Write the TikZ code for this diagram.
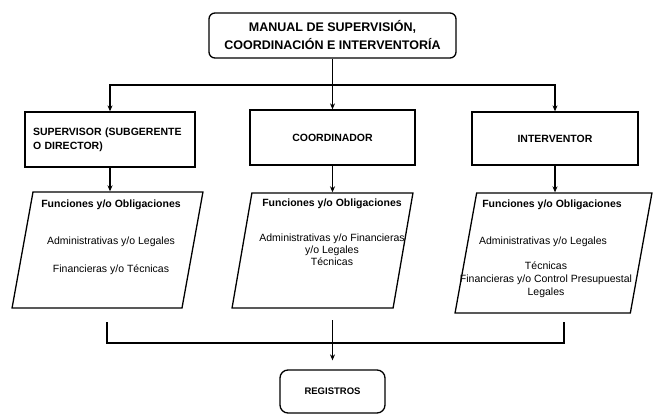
\documentclass[tikz,border=0pt]{standalone}
\usepackage{fontspec}
\setmainfont{Liberation Sans}
\usetikzlibrary{shapes.geometric,arrows.meta}
\begin{document}
\begin{tikzpicture}[x=1pt, y=-1pt,
  every node/.style={font=\fontsize{10.5}{12}\selectfont},
  box/.style={draw, line width=1.3pt, font=\fontsize{10.5}{14}\selectfont\bfseries},
  funbox/.style={draw, line width=1.3pt, trapezium, trapezium left angle=82, trapezium right angle=98, trapezium stretches=true, inner sep=3pt},
  head/.style={font=\fontsize{10.5}{12}\selectfont\bfseries},
  link/.style={line width=1.1pt},
  arr/.style={link, -{Stealth[length=6pt,width=5pt]}}]
\useasboundingbox (0,0) rectangle (656,415);
% top
\node[box, rounded corners=6pt, minimum width=247pt, minimum height=45pt, align=center, font=\fontsize{12.5}{18}\selectfont\bfseries] (manual) at (332.5,35.5) {MANUAL DE SUPERVISIÓN,\\COORDINACIÓN E INTERVENTORÍA};
% roles
\node[box, text width=154pt, inner xsep=8pt, minimum height=55pt, align=left] (sup) at (110,139.5) {SUPERVISOR (SUBGERENTE\\O DIRECTOR)};
\node[box, minimum width=165pt, minimum height=55pt] (coor) at (332.5,137.5) {COORDINADOR};
\node[box, minimum width=166pt, minimum height=53pt] (inter) at (555,138.5) {INTERVENTOR};
% funciones
\node[funbox, minimum width=191pt, minimum height=116pt] (sup-fun) at (107.5,250) {};
\node[funbox, minimum width=181pt, minimum height=115pt] (coor-fun) at (322.5,250.5) {};
\node[funbox, minimum width=197pt, minimum height=120pt] (inter-fun) at (553.5,253) {};
\node[head] (sup-t1) at (111,205) {Funciones y/o Obligaciones};
\node (sup-t2) at (111,242) {Administrativas y/o Legales};
\node (sup-t3) at (111,270) {Financieras y/o Técnicas};
\node[head] (coor-t1) at (332,204) {Funciones y/o Obligaciones};
\node[align=center] (coor-t2) at (332,250) {Administrativas y/o Financieras\\y/o Legales\\Técnicas};
\node[head] (inter-t1) at (552,205) {Funciones y/o Obligaciones};
\node (inter-t2) at (543,242) {Administrativas y/o Legales};
\node[align=center, font=\fontsize{10.5}{13}\selectfont] (inter-t3) at (546,280) {Técnicas\\Financieras y/o Control Presupuestal\\Legales};
% registros
\node[box, rounded corners=8pt, minimum width=105pt, minimum height=43pt, font=\fontsize{9.5}{12}\selectfont\bfseries] (reg) at (332.5,391.5) {REGISTROS};
% connectors
\coordinate (topbus) at (332.5,85);
\draw[arr] (manual.south) -- (coor.north);
\draw[arr] (topbus) -| (sup.north);
\draw[arr] (topbus) -| (inter.north);
\draw[arr] (sup.south) -- (sup.south |- sup-fun.north);
\draw[arr] (coor.south) -- (coor.south |- coor-fun.north);
\draw[arr] (inter.south) -- (inter.south |- inter-fun.north);
\coordinate (sup-out) at (107,322);
\coordinate (inter-out) at (564,322);
\coordinate (coor-out) at (332.5,320);
\coordinate (botbus) at (332.5,343);
\draw[link] (sup-out) |- (botbus) -| (inter-out);
\draw[arr, shorten >=9pt] (coor-out) -- (reg.north);
\end{tikzpicture}
\end{document}
